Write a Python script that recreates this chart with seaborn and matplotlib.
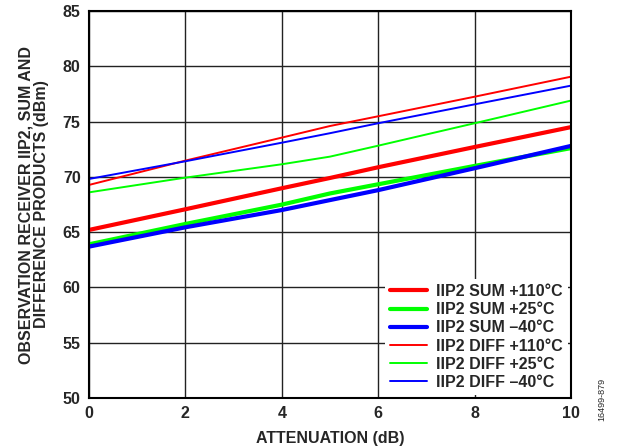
import numpy as np
import pandas as pd
import seaborn as sns
import matplotlib.pyplot as plt

# data
atten = [0, 2, 4, 5, 6, 8, 10]
sum_110 = [65.2, 67.07, 68.97, 69.9, 70.87, 72.7, 74.5]
sum_25 = [63.9, 65.74, 67.49, 68.5, 69.33, 70.99, 72.6]
sum_m40 = [63.69, 65.44, 67.0, 67.9, 68.8, 70.78, 72.8]
diff_110 = [69.27, 71.47, 73.55, 74.6, 75.48, 77.25, 79.06]
diff_25 = [68.6, 69.93, 71.14, 71.83, 72.82, 74.85, 76.9]
diff_m40 = [69.81, 71.41, 73.09, 73.95, 74.85, 76.56, 78.25]

labels = ['IIP2 SUM +110°C', 'IIP2 SUM +25°C', 'IIP2 SUM \u201340°C',
          'IIP2 DIFF +110°C', 'IIP2 DIFF +25°C', 'IIP2 DIFF \u201340°C']
series = [sum_110, sum_25, sum_m40, diff_110, diff_25, diff_m40]
colors = ['#ff0000', '#00ff00', '#0000ff', '#ff0000', '#00ff00', '#0000ff']
widths = [3, 3, 3, 1.4, 1.4, 1.4]

sns.set_style('white')
plt.rcParams['font.family'] = ['Liberation Sans', 'DejaVu Sans']
plt.rcParams['font.weight'] = 'bold'
fs = 11.5

fig = plt.figure(figsize=(6.17, 4.48), dpi=100)
ax = fig.add_axes([0.1442, 0.1116, 0.7812, 0.8638])

for lab, vals, c, w in zip(labels, series, colors, widths):
    sns.lineplot(x=atten, y=vals, color=c, linewidth=w, label=lab, ax=ax)

ax.set_xlim(0, 10)
ax.set_ylim(50, 85)
ax.set_xticks(np.arange(0, 11, 2))
ax.set_yticks(np.arange(50, 86, 5))
ax.grid(True, color='#222222', linewidth=1.0)
ax.tick_params(length=0, labelsize=fs, pad=6)
for t in ax.get_xticklabels() + ax.get_yticklabels():
    t.set_fontweight('bold')
for s in ax.spines.values():
    s.set_color('black')
    s.set_linewidth(1.5)

ax.set_xlabel('ATTENUATION (dB)', fontsize=fs, fontweight='bold', labelpad=7)
ax.set_ylabel('OBSERVATION RECEIVER IIP2, SUM AND\nDIFFERENCE PRODUCTS (dBm)',
              fontsize=fs, fontweight='bold', labelpad=10, linespacing=1.0)

leg = ax.legend(loc='lower right', frameon=True, facecolor='white', edgecolor='none',
                framealpha=1, fancybox=False, fontsize=fs, handlelength=2.3,
                labelspacing=0.2, borderaxespad=0.2, borderpad=0.3, handletextpad=0.6)
for t in leg.get_texts():
    t.set_fontweight('bold')

fig.text(0.975, 0.06, '16499-879', rotation=90, fontsize=6.5, fontweight='normal',
         ha='center', va='bottom')

plt.savefig('out.png', dpi=100)
